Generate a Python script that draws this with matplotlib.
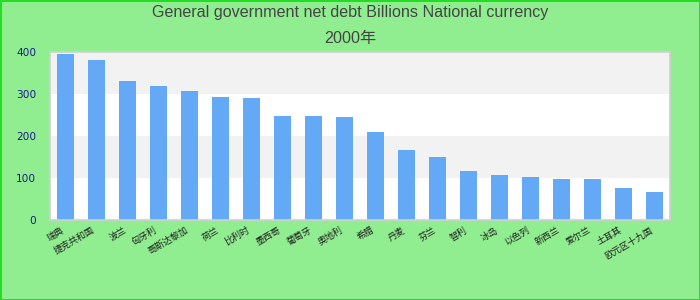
import matplotlib
matplotlib.use("Agg")
import matplotlib.pyplot as plt
import numpy as np

# data (2000, billions national currency)
paises = ["瑞典", "捷克共和国", "波兰", "匈牙利", "哥斯达黎加", "荷兰", "比利时", "墨西哥",
          "葡萄牙", "奥地利", "希腊", "丹麦", "芬兰", "智利", "冰岛", "以色列",
          "新西兰", "爱尔兰", "土耳其", "欧元区十九国"]
valores = [394, 379, 330, 318, 306, 292, 290, 247, 247, 244,
           209, 166, 150, 116, 107, 102, 97, 97, 76, 66]
yticks = [0, 100, 200, 300, 400]

titulo = "General government net debt Billions National currency"
subtitulo = "2000年"

fundo = "#90ee90"
cor_barra = "#63a9f5"

fig = plt.figure(figsize=(7, 3), dpi=100)
fig.patch.set_facecolor(fundo)
fig.patch.set_edgecolor("#22dd22")
fig.patch.set_linewidth(2)

ax = fig.add_axes([50 / 700, 1 - 220 / 300, 620 / 700, (220 - 51.5) / 300])
ax.set_facecolor("white")

# faixas alternadas
for i in range(len(yticks) - 1):
    if i % 2 == 1:
        ax.axhspan(yticks[i], yticks[i + 1], color="#f2f2f2", zorder=0, lw=0)

x = np.arange(len(valores))
ax.bar(x, valores, width=0.55, color=cor_barra, zorder=2)

ax.set_xlim(-0.5, len(valores) - 0.5)
ax.set_ylim(0, 400)
ax.set_yticks(yticks)
ax.set_yticklabels([str(v) for v in yticks], fontsize=7.6, color="#1a1a8c",
                   family="DejaVu Sans")
ax.tick_params(axis="y", length=0, pad=10)
ax.tick_params(axis="x", length=0, pad=4)
ax.set_xticks(x)
ax.set_xticklabels(paises, rotation=30, ha="right", fontsize=6.5,
                   family=["Noto Sans CJK SC", "DejaVu Sans"], color="#222222")

for s in ax.spines.values():
    s.set_color("#d0d0d0")
    s.set_linewidth(1.2)

fig.text(0.5, 1 - 13 / 300, titulo, ha="center", va="center", fontsize=11.6,
         color="#444444", family=["Liberation Sans", "DejaVu Sans"])
fig.text(0.5, 1 - 38 / 300, subtitulo, ha="center", va="center", fontsize=11.6,
         color="#444444", family=["Liberation Sans", "Noto Sans CJK SC"])

fig.savefig("out.png", dpi=100, facecolor=fig.get_facecolor(),
            edgecolor=fig.get_edgecolor())
